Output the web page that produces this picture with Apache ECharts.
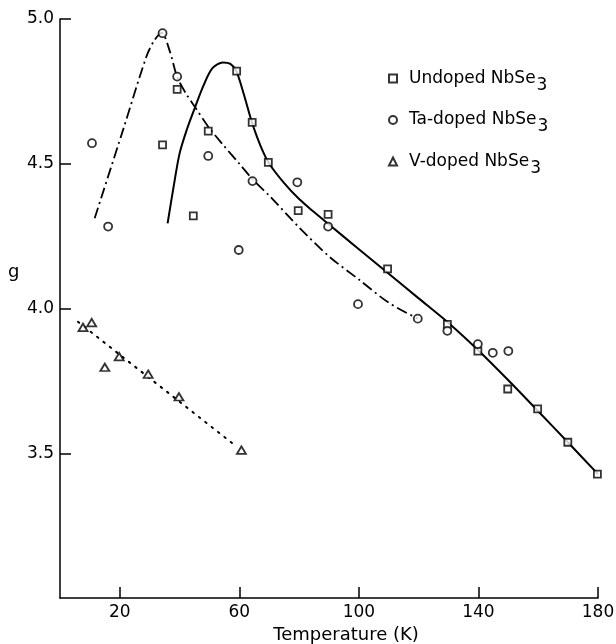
<!DOCTYPE html>
<html><head><meta charset="utf-8">
<script src="https://cdn.jsdelivr.net/npm/echarts@6/dist/echarts.min.js"></script>
<style>html,body{margin:0;padding:0;background:#fff}#c{width:616px;height:644px}</style>
</head><body><div id="c"></div>
<script>
// Undoped NbSe3 (squares)
const undopedT = [34.3, 39.2, 44.6, 49.6, 59.1, 64.3, 69.7, 79.7, 89.7, 109.6, 129.6, 139.8, 149.8, 159.8, 169.9, 179.8];
const undopedG = [4.565, 4.757, 4.320, 4.613, 4.820, 4.643, 4.505, 4.338, 4.325, 4.137, 3.945, 3.853, 3.722, 3.653, 3.538, 3.428];
// Ta-doped NbSe3 (circles)
const taT = [10.7, 16.1, 34.3, 39.2, 49.6, 59.8, 64.4, 79.4, 89.7, 99.7, 119.7, 129.6, 139.8, 144.8, 150.0];
const taG = [4.571, 4.283, 4.951, 4.801, 4.527, 4.202, 4.440, 4.436, 4.283, 4.015, 3.965, 3.923, 3.877, 3.847, 3.853];
// V-doped NbSe3 (triangles)
const vT = [7.7, 10.6, 15.0, 19.8, 29.5, 39.8, 60.7];
const vG = [3.935, 3.951, 3.797, 3.834, 3.773, 3.695, 3.511];
// Drawn guide curves
const undopedFitT = [36, 38, 40, 42.5, 45, 48, 51, 54.5, 57, 59, 61.5, 64, 66, 68, 70, 75, 80, 85, 90, 100, 110, 120, 130, 140, 150, 160, 170, 180];
const undopedFitG = [4.294, 4.42, 4.535, 4.62, 4.69, 4.77, 4.83, 4.850, 4.845, 4.82, 4.74, 4.65, 4.59, 4.54, 4.50, 4.433, 4.378, 4.333, 4.290, 4.205, 4.120, 4.035, 3.950, 3.855, 3.752, 3.645, 3.537, 3.428];
const taFitT = [11.6, 21.1, 28.9, 31.5, 34, 36.7, 39.2, 42, 45.1, 49.6, 54.6, 60, 65, 70, 80, 90, 100, 110, 119.7];
const taFitG = [4.312, 4.617, 4.870, 4.925, 4.952, 4.89, 4.80, 4.745, 4.697, 4.628, 4.565, 4.50, 4.44, 4.39, 4.28, 4.18, 4.10, 4.02, 3.965];
const vFitT = [6.0, 59.1];
const vFitG = [3.954, 3.523];
// Axis ticks
const xTicks = [20, 60, 100, 140, 180];
const yTicks = [3.5, 4.0, 4.5, 5.0];

const FONT = 'DejaVu Sans';
const pairs = (a, b) => a.map((t, i) => [t, b[i]]);
const markerStyle = {color: '#fff', borderColor: '#000', borderWidth: 1.8};
const legendFmt = name => '{n|' + name.replace('NbSe3', 'NbSe') + '}{s|3}';

const chart = echarts.init(document.getElementById('c'), null, {renderer: 'canvas'});
chart.setOption({
  backgroundColor: '#fff',
  animation: false,
  grid: {left: 60, right: 18, top: 19, bottom: 46, containLabel: false, outerBoundsMode: 'none'},
  graphic: [{
    type: 'text', left: 8, top: 263,
    style: {text: 'g', fontFamily: FONT, fontSize: 18, fill: '#000'}
  }],
  legend: {
    orient: 'vertical', left: 388, top: 63, padding: 0,
    itemWidth: 8, itemHeight: 8, itemGap: 10.5,
    data: [
      {name: 'Undoped NbSe3', icon: 'rect'},
      {name: 'Ta-doped NbSe3', icon: 'circle'},
      {name: 'V-doped NbSe3', icon: 'triangle'}
    ],
    formatter: legendFmt,
    textStyle: {
      padding: [0, 0, 0, 7],
      rich: {
        n: {fontFamily: FONT, fontSize: 17, color: '#000', lineHeight: 20},
        s: {fontFamily: FONT, fontSize: 17, color: '#000', lineHeight: 20, padding: [14, 0, 0, 1]}
      }
    }
  },
  xAxis: {
    type: 'value', min: 0, max: 180,
    axisLine: {lineStyle: {color: '#000', width: 1.5}},
    axisTick: {inside: true, length: 11, customValues: xTicks, lineStyle: {color: '#000', width: 1.5}},
    axisLabel: {customValues: xTicks, color: '#000', fontSize: 17, fontFamily: FONT, margin: 6},
    splitLine: {show: false},
    name: 'Temperature (K)', nameLocation: 'middle', nameGap: 27,
    nameTextStyle: {color: '#000', fontSize: 18, fontFamily: FONT, padding: [0, 0, 0, 34]}
  },
  yAxis: {
    type: 'value', min: 3, max: 5, interval: 0.5,
    axisLine: {show: true, lineStyle: {color: '#000', width: 1.5}},
    axisTick: {show: true, inside: true, length: 11, customValues: yTicks, lineStyle: {color: '#000', width: 1.5}},
    axisLabel: {customValues: yTicks, color: '#000', fontSize: 17, fontFamily: FONT, margin: 6,
      formatter: v => v.toFixed(1)},
    splitLine: {show: false}
  },
  series: [
    {name: 'undoped-fit', type: 'line', data: pairs(undopedFitT, undopedFitG), smooth: 0.3,
      showSymbol: false, symbol: 'none', lineStyle: {color: '#000', width: 2}, z: 1, silent: true},
    {name: 'ta-fit', type: 'line', data: pairs(taFitT, taFitG), smooth: 0.3,
      showSymbol: false, symbol: 'none', lineStyle: {color: '#000', width: 1.8, type: [11, 4, 2, 4]}, z: 1, silent: true},
    {name: 'v-fit', type: 'line', data: pairs(vFitT, vFitG),
      showSymbol: false, symbol: 'none', lineStyle: {color: '#000', width: 2, type: [1.6, 6.5], cap: 'round'}, z: 1, silent: true},
    {name: 'Undoped NbSe3', type: 'scatter', symbol: 'rect', symbolSize: 7,
      data: pairs(undopedT, undopedG), itemStyle: markerStyle, z: 3},
    {name: 'Ta-doped NbSe3', type: 'scatter', symbol: 'circle', symbolSize: 8,
      data: pairs(taT, taG), itemStyle: markerStyle, z: 3},
    {name: 'V-doped NbSe3', type: 'scatter', symbol: 'triangle', symbolSize: [9, 7.5],
      data: pairs(vT, vG), itemStyle: markerStyle, z: 3}
  ]
});
</script>
</body></html>
